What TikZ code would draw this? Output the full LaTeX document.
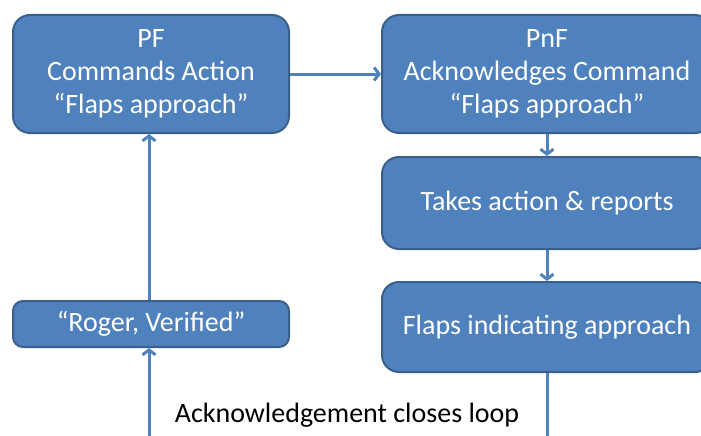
\documentclass[tikz,border=0pt]{standalone}
\usepackage{fontspec}
\setmainfont{Carlito}
\usetikzlibrary{arrows.meta}
\definecolor{boxfill}{HTML}{4F81BD}
\definecolor{boxline}{HTML}{3A5F8C}
\begin{document}
\begin{tikzpicture}[x=1pt,y=-1pt,
  flowbox/.style={draw=boxline, line width=2pt, fill=boxfill, rounded corners=17pt,
    text=white, align=center, inner sep=0pt, font=\fontsize{28}{33}\selectfont},
  conn/.style={draw=boxfill, line width=3pt, -{Straight Barb[length=5pt,width=13pt]}},
  plainconn/.style={draw=boxfill, line width=3pt}]
\useasboundingbox (0,0) rectangle (701,436);
\clip (0,0) rectangle (701,436);
\node[flowbox, minimum width=276pt, minimum height=118pt] (pf) at (151,74)
  {PF\\Commands Action\\“Flaps approach”};
\node[flowbox, minimum width=330pt, minimum height=118pt] (pnf) at (547,74)
  {PnF\\Acknowledges Command\\“Flaps approach”};
\node[flowbox, minimum width=330pt, minimum height=92pt] (takes) at (547,203)
  {Takes action \& reports};
\node[flowbox, minimum width=330pt, minimum height=90pt] (flaps) at (547,327)
  {Flaps indicating approach};
\node[flowbox, rounded corners=10pt, minimum width=276pt, minimum height=46pt] (roger) at (151,324)
  {“Roger, Verified”};
\coordinate (bl) at (149,445);
\coordinate (br) at (547,445);
\node[anchor=base, inner sep=0pt, font=\fontsize{28}{32}\selectfont] (lbl) at (347,422)
  {Acknowledgement closes loop};
\draw[conn] (pf.east) -- (pnf.west);
\draw[conn] (pnf.south) -- (takes.north);
\draw[conn] (takes.south) -- (flaps.north);
\draw[plainconn] (flaps.south) -- (br);
\draw[conn] (bl) -- (roger.south -| bl);
\draw[conn] (roger.north -| bl) -- (pf.south -| bl);
\end{tikzpicture}
\end{document}
